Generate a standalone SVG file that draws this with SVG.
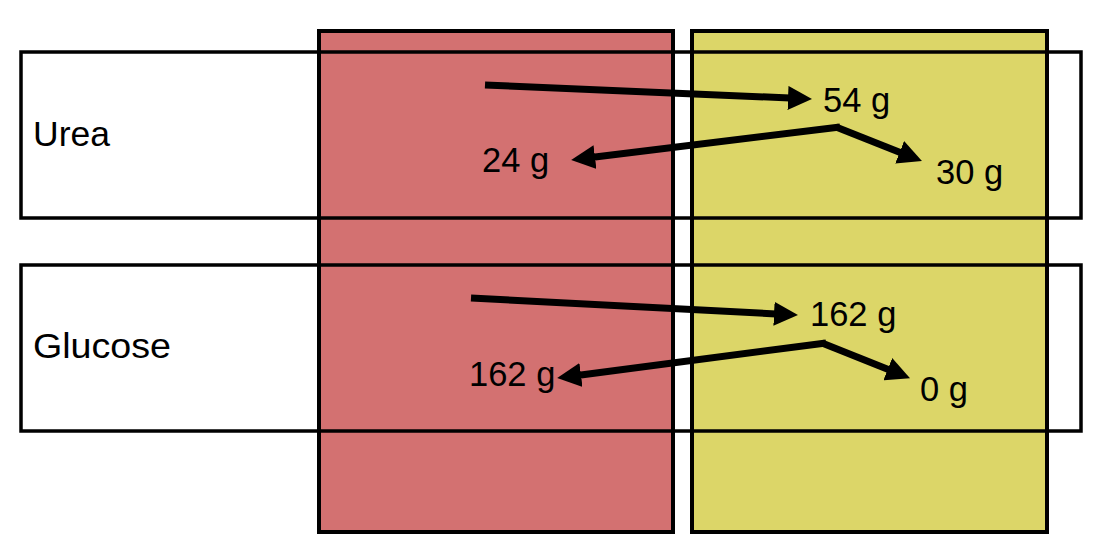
<svg xmlns="http://www.w3.org/2000/svg" width="1103" height="544" viewBox="0 0 1103 544">
  <style>
    .col { stroke: #000; stroke-width: 4; }
    .row { fill: none; stroke: #000; stroke-width: 3.5; }
    .lbl { font-family: "Liberation Sans", Arial, sans-serif; font-size: 34.5px; fill: #000; }
    .arr { fill: none; stroke: #000; stroke-width: 7; marker-end: url(#head); }
  </style>
  <defs>
    <marker id="head" markerUnits="userSpaceOnUse" markerWidth="24" markerHeight="24" refX="2" refY="12" orient="auto">
      <path d="M0,0 L24,12 L0,24 z" fill="#000"/>
    </marker>
  </defs>
  <rect width="1103" height="544" fill="#fff"/>
  <g id="column-red">
    <rect class="col" x="319" y="31" width="354" height="501" fill="#D37171"/>
  </g>
  <g id="column-yellow">
    <rect class="col" x="692" y="31" width="355" height="501" fill="#DCD668"/>
  </g>
  <g id="row-urea">
    <rect class="row" x="21" y="52" width="1060" height="166"/>
    <text class="lbl" x="33" y="146" font-size="33" textLength="77" lengthAdjust="spacingAndGlyphs">Urea</text>
  </g>
  <g id="row-glucose">
    <rect class="row" x="21" y="265" width="1060" height="166"/>
    <text class="lbl" x="33" y="358" font-size="33" textLength="138" lengthAdjust="spacingAndGlyphs">Glucose</text>
  </g>
  <g id="labels">
    <text class="lbl" x="823" y="112">54 g</text>
    <text class="lbl" x="482" y="172">24 g</text>
    <text class="lbl" x="936" y="184">30 g</text>
    <text class="lbl" x="810" y="326">162 g</text>
    <text class="lbl" x="469" y="386">162 g</text>
    <text class="lbl" x="920" y="401">0 g</text>
  </g>
  <g id="connectors">
    <path class="arr" d="M485,85 L790,98"/>
    <path class="arr" d="M840,127 L593,157.3"/>
    <path class="arr" d="M836,127 L901.5,153"/>
    <path class="arr" d="M471,298 L776,313.9"/>
    <path class="arr" d="M826,343 L579,375.2"/>
    <path class="arr" d="M822,343 L889.6,370"/>
  </g>
</svg>
